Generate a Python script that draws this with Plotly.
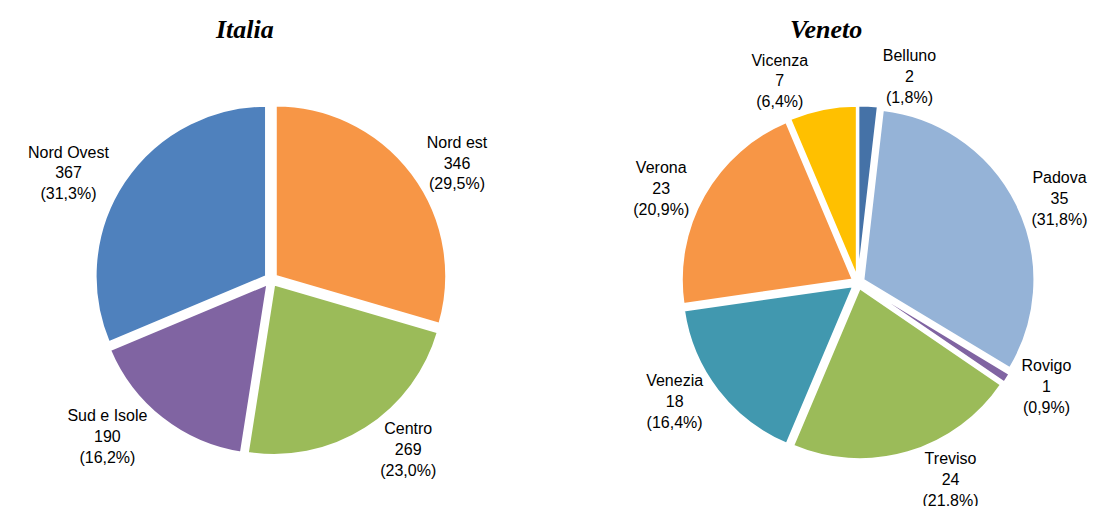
import plotly.graph_objects as go

it_labels = ["Nord est", "Centro", "Sud e Isole", "Nord Ovest"]
it_values = [346, 269, 190, 367]
it_colors = ["#F79646", "#9BBB59", "#8064A2", "#4F81BD"]

ve_labels = ["Belluno", "Padova", "Rovigo", "Treviso", "Venezia", "Verona", "Vicenza"]
ve_values = [2, 35, 1, 24, 18, 23, 7]
ve_colors = ["#4572A7", "#95B3D7", "#8064A2", "#9BBB59", "#4198AF", "#F79646", "#FFC000"]

titles = ["Italia", "Veneto"]


def make_text(labels, values):
    tot = sum(values)
    return [f"{l}<br>{v}<br>({v / tot * 100:.1f}%)".replace(".", ",") for l, v in zip(labels, values)]


fig = go.Figure()
for labels, values, colors, dom in [
    (it_labels, it_values, it_colors, dict(x=[0.0789, 0.4006], y=[0.1148, 0.812])),
    (ve_labels, ve_values, ve_colors, dict(x=[0.6135, 0.9362], y=[0.1077, 0.8073])),
]:
    fig.add_trace(go.Pie(
        labels=labels, values=values, sort=False, direction="clockwise", rotation=0,
        marker=dict(colors=colors, line=dict(color="white", width=2)),
        pull=[0.035] * len(values), automargin=False,
        text=make_text(labels, values), textinfo="text", textposition="outside",
        textfont=dict(family="Liberation Sans", size=16, color="#000000"),
        domain=dom, showlegend=False, hoverinfo="label+value+percent",
    ))

for t, xc in zip(titles, [236, 818]):
    fig.add_annotation(x=xc / 1097, y=1 - 22 / 506, xref="paper", yref="paper", text=f"<b><i>{t}</i></b>",
                       xanchor="center", yanchor="middle", showarrow=False,
                       font=dict(family="Liberation Serif", size=26, color="#000000"))

fig.update_layout(width=1097, height=506, margin=dict(l=0, r=0, t=0, b=0, autoexpand=False),
                  paper_bgcolor="white", plot_bgcolor="white")
fig.write_html("out.html")
